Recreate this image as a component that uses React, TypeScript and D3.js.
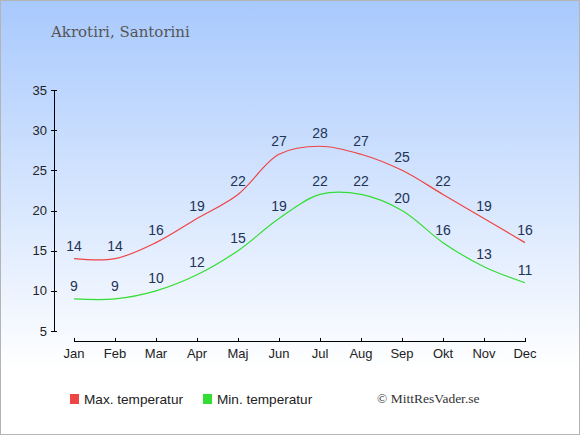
import * as d3 from 'd3';

const months = ['Jan', 'Feb', 'Mar', 'Apr', 'Maj', 'Jun', 'Jul', 'Aug', 'Sep', 'Okt', 'Nov', 'Dec'];
const maxTemps = [14, 14, 16, 19, 22, 27, 28, 27, 25, 22, 19, 16];
const minTemps = [9, 9, 10, 12, 15, 19, 22, 22, 20, 16, 13, 11];
const yTicks = [5, 10, 15, 20, 25, 30, 35];

const W = 580;
const H = 435;

export default function App() {
  const x = d3.scalePoint<string>().domain(months).range([74, 525]);
  const y = d3.scaleLinear().domain([5, 35]).range([331, 90]);

  const line = d3
    .line<number>()
    .x((_, i) => x(months[i]) ?? 0)
    .y((d) => y(d))
    .curve(d3.curveCatmullRom.alpha(0.5));

  const series = [
    { name: 'Max. temperatur', values: maxTemps, color: '#ee4444' },
    { name: 'Min. temperatur', values: minTemps, color: '#33dd33' },
  ];

  return (
    <svg width={W} height={H} style={{ display: 'block', position: 'absolute', left: 0, top: 0 }}>
      <defs>
        <linearGradient id="bg" x1="0" y1="0" x2="0" y2="1">
          <stop offset="0" stopColor="#a8c9fd" />
          <stop offset="0.85" stopColor="#ffffff" />
          <stop offset="1" stopColor="#ffffff" />
        </linearGradient>
      </defs>
      <rect x={0.5} y={0.5} width={W - 1} height={H - 1} fill="url(#bg)" stroke="#b4b4b4" />

      <text x={51} y={37} fontFamily="'DejaVu Serif', serif" fontSize={15} fill="#555">
        Akrotiri, Santorini
      </text>

      {/* Y axis */}
      <line x1={54.5} x2={54.5} y1={y(35)} y2={y(5)} stroke="#000" />
      {yTicks.map((t) => (
        <g key={t}>
          <line x1={51} x2={57} y1={Math.round(y(t)) + 0.5} y2={Math.round(y(t)) + 0.5} stroke="#000" />
          <text
            x={47}
            y={y(t) + 4.5}
            textAnchor="end"
            fontFamily="'Liberation Sans', Arial, sans-serif"
            fontSize={13}
            fill="#222"
          >
            {t}
          </text>
        </g>
      ))}

      {/* X axis */}
      <line x1={x('Jan')} x2={x('Dec')} y1={341.5} y2={341.5} stroke="#000" />
      {months.map((m) => (
        <g key={m}>
          <line x1={(x(m) ?? 0) + 0.5} x2={(x(m) ?? 0) + 0.5} y1={338} y2={342} stroke="#000" />
          <text
            x={x(m)}
            y={358}
            textAnchor="middle"
            fontFamily="'Liberation Sans', Arial, sans-serif"
            fontSize={13}
            fill="#222"
          >
            {m}
          </text>
        </g>
      ))}

      {/* Lines */}
      {series.map((s) => (
        <path key={s.name} d={line(s.values) ?? ''} fill="none" stroke={s.color} strokeWidth={1.2} />
      ))}

      {/* Value labels */}
      {series.map((s) =>
        s.values.map((v, i) => (
          <text
            key={s.name + i}
            x={x(months[i])}
            y={y(v) - 8}
            textAnchor="middle"
            fontFamily="'Liberation Sans', Arial, sans-serif"
            fontSize={14}
            fill="#223355"
          >
            {v}
          </text>
        )),
      )}

      {/* Legend */}
      {series.map((s, i) => (
        <g key={s.name} transform={`translate(${70 + i * 133},394)`}>
          <rect x={0} y={0} width={9} height={10} fill={s.color} />
          <text x={14} y={9.5} fontFamily="'Liberation Sans', Arial, sans-serif" fontSize={13.6} fill="#222">
            {s.name}
          </text>
        </g>
      ))}

      <text x={377} y={403} fontFamily="'Liberation Serif', serif" fontSize={13.5} fill="#333">
        © MittResVader.se
      </text>
    </svg>
  );
}
